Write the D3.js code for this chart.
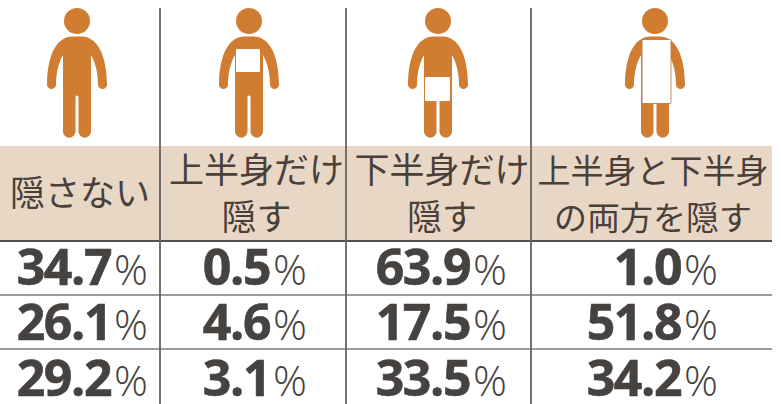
<!DOCTYPE html>
<html lang="ja">
<head>
<meta charset="utf-8">
<script src="https://cdn.jsdelivr.net/npm/d3@7/dist/d3.min.js"></script>
<style>
  html, body { margin: 0; padding: 0; background: #fff; }
  svg { display: block; }
  .head { font-family: "Noto Sans CJK JP"; font-size: 35px; font-weight: 400; fill: #4a403a; text-anchor: middle; }
  .val { font-family: "Open Sans"; font-size: 50px; font-weight: 700; fill: #464240; text-anchor: end; letter-spacing: -1.4px; stroke: #464240; stroke-width: 0.6px; }
  .val tspan { font-weight: 300; font-size: 42px; letter-spacing: 0; stroke: none; }
</style>
</head>
<body>
<svg id="chart" width="781" height="404"></svg>
<script>
(function () {
  "use strict";

  var columns = ["none", "upper", "lower", "both"];
  var headers = [
    ["隠さない"],
    ["上半身だけ", "隠す"],
    ["下半身だけ", "隠す"],
    ["上半身と下半身", "の両方を隠す"]
  ];
  var rows = ["r1", "r2", "r3"];
  var noneValues = [34.7, 26.1, 29.2];
  var upperValues = [0.5, 4.6, 3.1];
  var lowerValues = [63.9, 17.5, 33.5];
  var bothValues = [1.0, 51.8, 34.2];
  var seriesValues = [noneValues, upperValues, lowerValues, bothValues];

  var svg = d3.select("#chart");

  // column edges are not even, so ordinal scales
  var colLeft = d3.scaleOrdinal().domain(columns).range([0, 160, 346, 531]);
  var colRight = d3.scaleOrdinal().domain(columns).range([160, 346, 531, 772]);
  var figureX = d3.scaleOrdinal().domain(columns).range([77, 249, 438, 655]);
  var headX = d3.scaleOrdinal().domain(columns).range([80, 256.5, 442, 653]);
  var valueRight = d3.scaleOrdinal().domain(columns).range([148, 307, 507, 718]);
  var rowY = d3.scaleBand().domain(rows).range([241, 403]);
  var baseline = d3.scaleOrdinal().domain(rows).range([285, 340, 396]);

  var headerTop = 146, headerBottom = 240;

  // header band
  svg.append("rect")
      .attr("x", 0)
      .attr("y", headerTop)
      .attr("width", colRight("both"))
      .attr("height", headerBottom - headerTop)
      .attr("fill", "#e9d7c6");

  // people
  var person = "M-5,36.5 L5,36.5 C19,37 29.5,52 30,84 A4.5,4.5 0 0 1 21,85 " +
      "C21,72 18,62 14,55 L14,132 A6.3,6.5 0 0 1 1.5,132 L1.5,97 A1.5,1.5 0 0 0 -1.5,97 " +
      "L-1.5,132 A6.3,6.5 0 0 1 -14,132 L-14,55 C-18,62 -21,72 -21,85 A4.5,4.5 0 0 1 -30,84 " +
      "C-29.5,52 -19,37 -5,36.5 Z";

  var figures = svg.selectAll("g.figure")
      .data(columns)
    .enter().append("g")
      .attr("class", "figure")
      .attr("transform", function (d) { return "translate(" + figureX(d) + ",0)"; });

  figures.append("circle")
      .attr("cy", 21)
      .attr("r", 13)
      .attr("fill", "#d17d31");
  figures.append("path")
      .attr("d", person)
      .attr("fill", "#d17d31");

  // towels
  var towels = {
    upper: { x: -13, y: 49, w: 24, h: 23, stroke: "none" },
    lower: { x: -13, y: 77, w: 25, h: 24, stroke: "none" },
    both: { x: -13, y: 39.5, w: 29, h: 64, stroke: "#c9653f" }
  };
  figures.filter(function (d) { return towels[d]; })
    .append("rect")
      .attr("x", function (d) { return towels[d].x; })
      .attr("y", function (d) { return towels[d].y; })
      .attr("width", function (d) { return towels[d].w; })
      .attr("height", function (d) { return towels[d].h; })
      .attr("rx", 1)
      .attr("fill", "#fff")
      .attr("stroke", function (d) { return towels[d].stroke; })
      .attr("stroke-width", 0.8);

  // header text
  svg.selectAll("g.head")
      .data(columns)
    .enter().append("g")
      .each(function (d, i) {
        var lines = headers[i];
        var ys = lines.length === 1 ? [206] : [183, 230];
        d3.select(this).selectAll("text")
            .data(lines)
          .enter().append("text")
            .attr("class", "head")
            .attr("x", headX(d))
            .attr("y", function (e, j) { return ys[j]; })
            .style("font-size", d === "both" ? "33px" : null)
            .text(function (e) { return e; });
      });

  // rules
  svg.selectAll("line.row")
      .data(rows)
    .enter().append("line")
      .attr("class", "row")
      .attr("x1", 0)
      .attr("x2", colRight("both"))
      .attr("y1", function (d) { return rowY(d); })
      .attr("y2", function (d) { return rowY(d); })
      .attr("stroke", function (d, i) { return i === 0 ? "#55504d" : "#7d7a78"; })
      .attr("stroke-width", function (d, i) { return i === 0 ? 2 : 1.6; });

  svg.selectAll("line.col")
      .data(columns.slice(1))
    .enter().append("line")
      .attr("class", "col")
      .attr("x1", function (d) { return colLeft(d); })
      .attr("x2", function (d) { return colLeft(d); })
      .attr("y1", 8)
      .attr("y2", 404)
      .attr("stroke", "#66625f")
      .attr("stroke-width", 1.8);

  // values
  columns.forEach(function (c, i) {
    svg.selectAll("text.val-" + c)
        .data(seriesValues[i])
      .enter().append("text")
        .attr("class", "val val-" + c)
        .attr("x", valueRight(c))
        .attr("y", function (d, j) { return baseline(rows[j]); })
        .text(function (d) { return d3.format(".1f")(d); })
      .append("tspan")
        .attr("dx", 3)
        .text("%");
  });
}());
</script>
</body>
</html>
